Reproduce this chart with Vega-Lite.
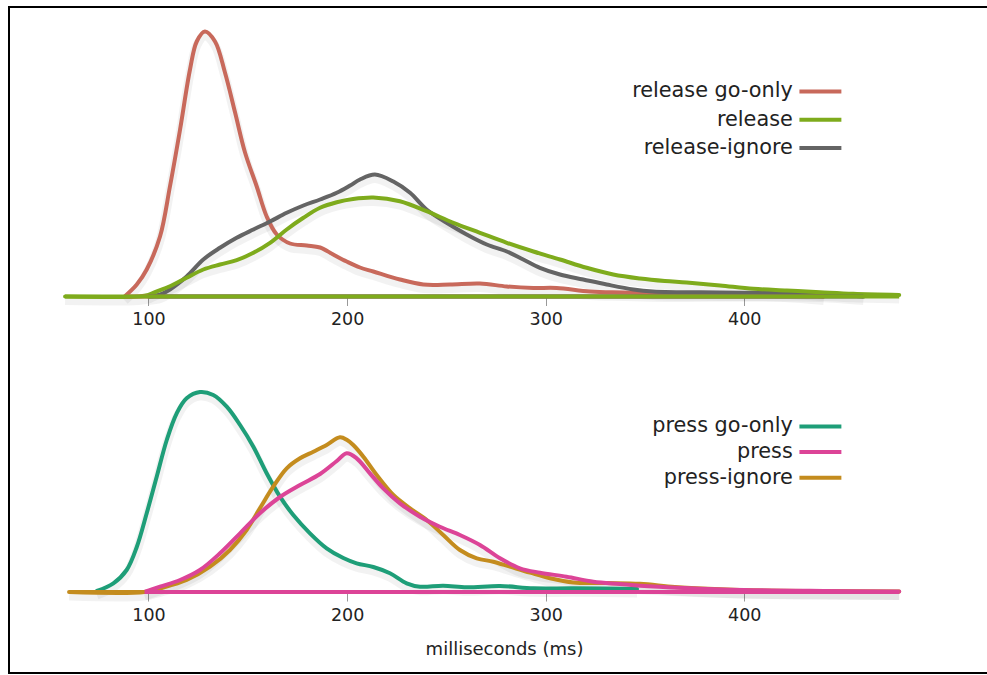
{
  "$schema": "https://vega.github.io/schema/vega-lite/v6.json",
  "autosize": "none",
  "width": 990,
  "height": 666,
  "padding": {"left": 9, "top": 7, "right": -12, "bottom": 2},
  "config": {
    "font": "DejaVu Sans",
    "view": {"stroke": "#000000", "strokeWidth": 2},
    "axis": {"labelFont": "DejaVu Sans", "labelFontSize": 17.5, "labelColor": "#222222", "tickColor": "#999999", "tickSize": 9, "domain": false, "grid": false, "labelPadding": 5, "titleFont": "DejaVu Sans", "titleFontSize": 18, "titleFontWeight": "normal", "titleColor": "#222222", "titlePadding": 17},
    "legend": {"labelFont": "DejaVu Sans", "labelFontSize": 20.8, "labelColor": "#222222", "labelLimit": 400, "symbolType": "M-4,0H4", "symbolSize": 110, "symbolStrokeWidth": 4, "symbolOffset": 11, "labelAlign": "right", "labelOffset": -38, "padding": 0, "title": null}
  },
  "datasets": {
    "top": [
      {"series": "release go-only", "x": 88, "v": 0},
      {"series": "release go-only", "x": 94.1, "v": 12},
      {"series": "release go-only", "x": 99.1, "v": 27},
      {"series": "release go-only", "x": 105.8, "v": 60},
      {"series": "release go-only", "x": 110.8, "v": 110},
      {"series": "release go-only", "x": 115.9, "v": 167},
      {"series": "release go-only", "x": 120.9, "v": 227},
      {"series": "release go-only", "x": 124.3, "v": 255},
      {"series": "release go-only", "x": 128.4, "v": 265},
      {"series": "release go-only", "x": 133.5, "v": 255},
      {"series": "release go-only", "x": 138.5, "v": 224},
      {"series": "release go-only", "x": 143.6, "v": 184},
      {"series": "release go-only", "x": 148.6, "v": 144},
      {"series": "release go-only", "x": 154.5, "v": 110},
      {"series": "release go-only", "x": 159.5, "v": 80},
      {"series": "release go-only", "x": 164.6, "v": 62},
      {"series": "release go-only", "x": 171.3, "v": 53},
      {"series": "release go-only", "x": 179.7, "v": 51},
      {"series": "release go-only", "x": 186.4, "v": 49},
      {"series": "release go-only", "x": 193, "v": 42},
      {"series": "release go-only", "x": 199.8, "v": 35},
      {"series": "release go-only", "x": 206.5, "v": 29},
      {"series": "release go-only", "x": 213.2, "v": 25},
      {"series": "release go-only", "x": 226.6, "v": 17},
      {"series": "release go-only", "x": 238.4, "v": 12},
      {"series": "release go-only", "x": 251.8, "v": 12},
      {"series": "release go-only", "x": 266.9, "v": 13},
      {"series": "release go-only", "x": 280.4, "v": 10},
      {"series": "release go-only", "x": 293.8, "v": 8.5},
      {"series": "release go-only", "x": 305.5, "v": 8.5},
      {"series": "release go-only", "x": 322.3, "v": 5},
      {"series": "release go-only", "x": 339, "v": 4},
      {"series": "release go-only", "x": 360, "v": 3},
      {"series": "release go-only", "x": 400, "v": 3.5},
      {"series": "release go-only", "x": 420, "v": 3},
      {"series": "release go-only", "x": 440, "v": 0},
      {"series": "release-ignore", "x": 100, "v": 0},
      {"series": "release-ignore", "x": 106, "v": 2},
      {"series": "release-ignore", "x": 110.8, "v": 7},
      {"series": "release-ignore", "x": 119.2, "v": 20},
      {"series": "release-ignore", "x": 127.6, "v": 37},
      {"series": "release-ignore", "x": 136, "v": 48.7},
      {"series": "release-ignore", "x": 144.4, "v": 58.7},
      {"series": "release-ignore", "x": 152.8, "v": 67},
      {"series": "release-ignore", "x": 161.2, "v": 75},
      {"series": "release-ignore", "x": 169.6, "v": 83.7},
      {"series": "release-ignore", "x": 178, "v": 91},
      {"series": "release-ignore", "x": 186.4, "v": 97},
      {"series": "release-ignore", "x": 194.8, "v": 103.7},
      {"series": "release-ignore", "x": 201.5, "v": 111},
      {"series": "release-ignore", "x": 206.5, "v": 117},
      {"series": "release-ignore", "x": 214, "v": 122},
      {"series": "release-ignore", "x": 223.3, "v": 115},
      {"series": "release-ignore", "x": 231.7, "v": 103.7},
      {"series": "release-ignore", "x": 240, "v": 87},
      {"series": "release-ignore", "x": 250.1, "v": 73.7},
      {"series": "release-ignore", "x": 260.2, "v": 62},
      {"series": "release-ignore", "x": 270.3, "v": 52},
      {"series": "release-ignore", "x": 280.4, "v": 45},
      {"series": "release-ignore", "x": 288.7, "v": 37},
      {"series": "release-ignore", "x": 297.1, "v": 28.7},
      {"series": "release-ignore", "x": 307.2, "v": 22},
      {"series": "release-ignore", "x": 318.9, "v": 17},
      {"series": "release-ignore", "x": 330.7, "v": 12},
      {"series": "release-ignore", "x": 344.1, "v": 7},
      {"series": "release-ignore", "x": 354, "v": 5},
      {"series": "release-ignore", "x": 387.8, "v": 4},
      {"series": "release-ignore", "x": 421, "v": 3.5},
      {"series": "release-ignore", "x": 438, "v": 3},
      {"series": "release-ignore", "x": 460, "v": 0},
      {"series": "release", "x": 58, "v": 0},
      {"series": "release", "x": 95, "v": 0},
      {"series": "release", "x": 100, "v": 1.5},
      {"series": "release", "x": 102.4, "v": 3.7},
      {"series": "release", "x": 110.8, "v": 10.3},
      {"series": "release", "x": 119.2, "v": 18.7},
      {"series": "release", "x": 127.6, "v": 27},
      {"series": "release", "x": 136, "v": 32},
      {"series": "release", "x": 144.4, "v": 36.3},
      {"series": "release", "x": 152.8, "v": 43.7},
      {"series": "release", "x": 161.2, "v": 53.7},
      {"series": "release", "x": 169.6, "v": 67},
      {"series": "release", "x": 178, "v": 78.7},
      {"series": "release", "x": 186.4, "v": 88.7},
      {"series": "release", "x": 194.8, "v": 94.3},
      {"series": "release", "x": 203, "v": 97.5},
      {"series": "release", "x": 213.2, "v": 99},
      {"series": "release", "x": 226.6, "v": 95.3},
      {"series": "release", "x": 240, "v": 85.3},
      {"series": "release", "x": 253.5, "v": 73.7},
      {"series": "release", "x": 266.9, "v": 63.7},
      {"series": "release", "x": 280.4, "v": 53.7},
      {"series": "release", "x": 293.8, "v": 45},
      {"series": "release", "x": 307.2, "v": 37},
      {"series": "release", "x": 320.6, "v": 28.7},
      {"series": "release", "x": 334, "v": 22},
      {"series": "release", "x": 347.5, "v": 18},
      {"series": "release", "x": 360, "v": 15.5},
      {"series": "release", "x": 371, "v": 14},
      {"series": "release", "x": 387.8, "v": 11},
      {"series": "release", "x": 404.6, "v": 7.7},
      {"series": "release", "x": 421.4, "v": 6},
      {"series": "release", "x": 438.2, "v": 4.3},
      {"series": "release", "x": 454.9, "v": 2.7},
      {"series": "release", "x": 478, "v": 1.5}
    ],
    "bottom": [
      {"series": "press go-only", "x": 74, "v": 1},
      {"series": "press go-only", "x": 82.3, "v": 8.7},
      {"series": "press go-only", "x": 89, "v": 22},
      {"series": "press go-only", "x": 94.1, "v": 45},
      {"series": "press go-only", "x": 99.1, "v": 78.7},
      {"series": "press go-only", "x": 104.1, "v": 115},
      {"series": "press go-only", "x": 109.2, "v": 152},
      {"series": "press go-only", "x": 114.2, "v": 178.7},
      {"series": "press go-only", "x": 119.2, "v": 193.7},
      {"series": "press go-only", "x": 125.9, "v": 200},
      {"series": "press go-only", "x": 132.6, "v": 197},
      {"series": "press go-only", "x": 139.4, "v": 185.3},
      {"series": "press go-only", "x": 146.1, "v": 167},
      {"series": "press go-only", "x": 152.8, "v": 145.3},
      {"series": "press go-only", "x": 159.5, "v": 118.7},
      {"series": "press go-only", "x": 166.2, "v": 95.3},
      {"series": "press go-only", "x": 172.9, "v": 77},
      {"series": "press go-only", "x": 181.3, "v": 58.7},
      {"series": "press go-only", "x": 189.7, "v": 43.7},
      {"series": "press go-only", "x": 198.1, "v": 34},
      {"series": "press go-only", "x": 204.8, "v": 28.7},
      {"series": "press go-only", "x": 213.2, "v": 25},
      {"series": "press go-only", "x": 221.6, "v": 18.7},
      {"series": "press go-only", "x": 230, "v": 8.7},
      {"series": "press go-only", "x": 236.7, "v": 5.3},
      {"series": "press go-only", "x": 248.4, "v": 6.3},
      {"series": "press go-only", "x": 260.2, "v": 4.7},
      {"series": "press go-only", "x": 277, "v": 6},
      {"series": "press go-only", "x": 293.8, "v": 3.7},
      {"series": "press go-only", "x": 313.9, "v": 3.7},
      {"series": "press go-only", "x": 346, "v": 3},
      {"series": "press-ignore", "x": 60, "v": 0},
      {"series": "press-ignore", "x": 98, "v": 0},
      {"series": "press-ignore", "x": 105.8, "v": 3.7},
      {"series": "press-ignore", "x": 119.2, "v": 12},
      {"series": "press-ignore", "x": 131, "v": 25.3},
      {"series": "press-ignore", "x": 141, "v": 42},
      {"series": "press-ignore", "x": 149.4, "v": 62},
      {"series": "press-ignore", "x": 156.1, "v": 83.7},
      {"series": "press-ignore", "x": 162.8, "v": 105.3},
      {"series": "press-ignore", "x": 169.6, "v": 123.7},
      {"series": "press-ignore", "x": 176.3, "v": 133.7},
      {"series": "press-ignore", "x": 183, "v": 140.3},
      {"series": "press-ignore", "x": 189.7, "v": 147},
      {"series": "press-ignore", "x": 196.4, "v": 154.7},
      {"series": "press-ignore", "x": 200, "v": 152},
      {"series": "press-ignore", "x": 203.1, "v": 147},
      {"series": "press-ignore", "x": 208.2, "v": 135.3},
      {"series": "press-ignore", "x": 214.9, "v": 117},
      {"series": "press-ignore", "x": 223.3, "v": 97},
      {"series": "press-ignore", "x": 231.7, "v": 83.7},
      {"series": "press-ignore", "x": 240.1, "v": 72},
      {"series": "press-ignore", "x": 248.4, "v": 57},
      {"series": "press-ignore", "x": 256.8, "v": 42},
      {"series": "press-ignore", "x": 265.3, "v": 33.7},
      {"series": "press-ignore", "x": 273.6, "v": 30.3},
      {"series": "press-ignore", "x": 282, "v": 25.3},
      {"series": "press-ignore", "x": 292.1, "v": 19.3},
      {"series": "press-ignore", "x": 302.2, "v": 13.7},
      {"series": "press-ignore", "x": 313.9, "v": 9.5},
      {"series": "press-ignore", "x": 330.7, "v": 9},
      {"series": "press-ignore", "x": 347.5, "v": 8.2},
      {"series": "press-ignore", "x": 365, "v": 5},
      {"series": "press-ignore", "x": 385, "v": 3},
      {"series": "press-ignore", "x": 410, "v": 1.5},
      {"series": "press-ignore", "x": 440, "v": 1},
      {"series": "press-ignore", "x": 478, "v": 0.5},
      {"series": "press", "x": 98, "v": 0},
      {"series": "press", "x": 105.8, "v": 5.3},
      {"series": "press", "x": 115.9, "v": 12},
      {"series": "press", "x": 125.9, "v": 22},
      {"series": "press", "x": 136, "v": 38.7},
      {"series": "press", "x": 146.1, "v": 58.7},
      {"series": "press", "x": 156.1, "v": 78.7},
      {"series": "press", "x": 166.2, "v": 95},
      {"series": "press", "x": 176.3, "v": 107},
      {"series": "press", "x": 186.4, "v": 118},
      {"series": "press", "x": 194.8, "v": 131},
      {"series": "press", "x": 199.8, "v": 138.7},
      {"series": "press", "x": 204.8, "v": 133.7},
      {"series": "press", "x": 211.5, "v": 118.7},
      {"series": "press", "x": 218.2, "v": 103.7},
      {"series": "press", "x": 226.6, "v": 88.7},
      {"series": "press", "x": 236.7, "v": 75.3},
      {"series": "press", "x": 246.7, "v": 65.3},
      {"series": "press", "x": 256.8, "v": 57},
      {"series": "press", "x": 266.9, "v": 47},
      {"series": "press", "x": 277, "v": 33.7},
      {"series": "press", "x": 287, "v": 23.7},
      {"series": "press", "x": 297.1, "v": 19.3},
      {"series": "press", "x": 310.5, "v": 15.3},
      {"series": "press", "x": 324, "v": 10.3},
      {"series": "press", "x": 337.4, "v": 8},
      {"series": "press", "x": 347.5, "v": 6.3},
      {"series": "press", "x": 370, "v": 4},
      {"series": "press", "x": 400, "v": 2},
      {"series": "press", "x": 440, "v": 1},
      {"series": "press", "x": 478, "v": 0.5}
    ]
  },
  "layer": [
    {
      "data": {"name": "top"},
      "layer": [
        {
          "mark": {"type": "line", "interpolate": "catmull-rom", "strokeWidth": 9, "color": "#000000", "opacity": 0.05, "yOffset": 4},
          "encoding": {
            "x": {"field": "x", "type": "quantitative", "title": null, "scale": {"domain": [29.76, 528.25], "nice": false, "zero": false}, "axis": {"values": [100, 200, 300, 400], "offset": -376.5, "title": null}},
            "y": {"field": "v", "type": "quantitative", "scale": {"domain": [-376.5, 289.5], "nice": false, "zero": false}, "axis": null},
            "detail": {"field": "series"}
          }
        },
        {
          "mark": {"type": "line", "interpolate": "catmull-rom", "strokeWidth": 4, "strokeCap": "round"},
          "encoding": {
            "x": {"field": "x", "type": "quantitative", "title": null},
            "y": {"field": "v", "type": "quantitative"},
            "color": {"field": "series", "type": "nominal", "scale": {"domain": ["release go-only", "release", "release-ignore"], "range": ["#c8695b", "#7eab1c", "#646464"]}, "legend": {"orient": "none", "legendX": 790, "legendY": 74, "rowPadding": 6.3}},
            "detail": {"field": "series"}
          }
        },
        {
          "mark": {"type": "rule", "strokeWidth": 4},
          "encoding": {
            "x": {"field": "x", "aggregate": "min", "type": "quantitative", "title": null},
            "x2": {"field": "x", "aggregate": "max"},
            "y": {"datum": 0},
            "color": {"field": "series", "type": "nominal"}
          }
        }
      ]
    },
    {
      "data": {"name": "bottom"},
      "layer": [
        {
          "mark": {"type": "line", "interpolate": "catmull-rom", "strokeWidth": 9, "color": "#000000", "opacity": 0.05, "yOffset": 4},
          "encoding": {
            "x": {"field": "x", "type": "quantitative", "title": "milliseconds (ms)", "scale": {"domain": [29.76, 528.25], "nice": false, "zero": false}, "axis": {"values": [100, 200, 300, 400], "offset": -81, "title": "milliseconds (ms)", "orient": "bottom"}},
            "y": {"field": "v", "type": "quantitative", "scale": {"domain": [-81, 585], "nice": false, "zero": false}, "axis": null},
            "detail": {"field": "series"}
          }
        },
        {
          "mark": {"type": "line", "interpolate": "catmull-rom", "strokeWidth": 4, "strokeCap": "round"},
          "encoding": {
            "x": {"field": "x", "type": "quantitative", "title": "milliseconds (ms)"},
            "y": {"field": "v", "type": "quantitative"},
            "color": {"field": "series", "type": "nominal", "scale": {"domain": ["press go-only", "press", "press-ignore"], "range": ["#1e9e78", "#dc4497", "#c48c1e"]}, "legend": {"orient": "none", "legendX": 790, "legendY": 409, "rowPadding": 3.7}},
            "detail": {"field": "series"}
          }
        },
        {
          "mark": {"type": "rule", "strokeWidth": 4},
          "encoding": {
            "x": {"field": "x", "aggregate": "min", "type": "quantitative", "title": "milliseconds (ms)"},
            "x2": {"field": "x", "aggregate": "max"},
            "y": {"datum": 0},
            "color": {"field": "series", "type": "nominal"}
          }
        }
      ]
    }
  ],
  "resolve": {
    "scale": {"x": "independent", "y": "independent", "color": "independent"},
    "axis": {"x": "independent"},
    "legend": {"color": "independent"}
  }
}
